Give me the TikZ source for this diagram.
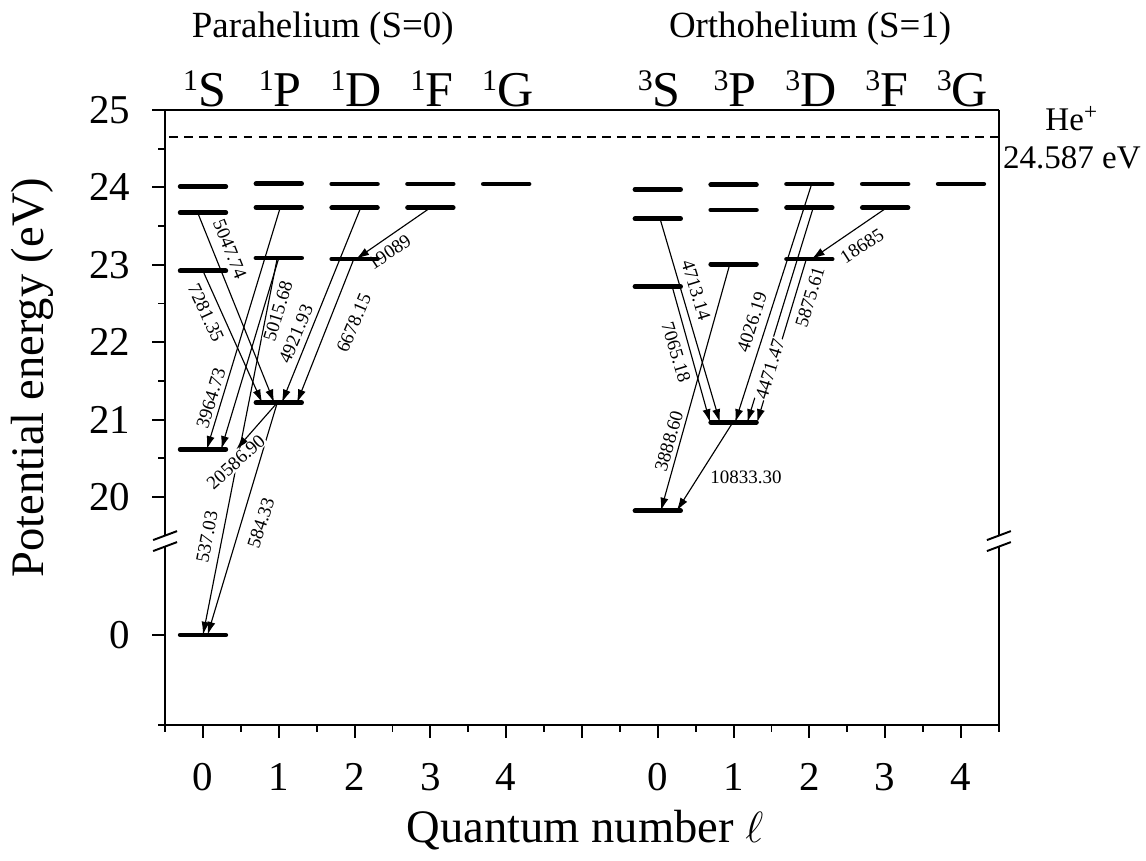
\documentclass[tikz,border=0pt]{standalone}
\usepackage{fontspec}
\setmainfont{Liberation Serif}
\usetikzlibrary{arrows.meta}
\newcommand{\fsz}[1]{\fontsize{#1}{#1}\selectfont}
\begin{document}
\begin{tikzpicture}[x=1.516cm,y=1.548cm,
    axis/.style={line width=1.1pt},
    level/.style={line width=2.8pt,line cap=round},
    trans/.style={line width=0.65pt,-{Latex[length=7.5pt,width=4.6pt]}},
    wl/.style={fill=white,inner sep=0.6pt,font={\fsz{10.8}}}]
    \useasboundingbox (-2.678,15.297) rectangle (12.441,26.421);
    % frame with broken energy axis
    \draw[axis] (-0.5,25)--(10.5,25) (-0.5,17.054)--(10.5,17.054);
    \foreach \bx in {-0.5,10.5}{
      \draw[axis] (\bx,17.054)--(\bx,19.359) (\bx,19.501)--(\bx,25);
      \foreach \d in {-0.071,0.071}
        \draw[axis] (\bx-0.158,19.43+\d-0.058)--(\bx+0.158,19.43+\d+0.058);
    }
    \foreach \e in {20,...,25}{\draw[axis] (-0.5,\e)--(-0.67,\e);
      \node[anchor=east,font={\fsz{23.3}}] (y\e) at (-0.88,\e) {\e};}
    \foreach \e in {20.5,21.5,...,24.5}{\draw[axis] (-0.5,\e)--(-0.6,\e);}
    \draw[axis] (-0.5,18.217)--(-0.67,18.217) (-0.5,17.054)--(-0.6,17.054);
    \node[anchor=east,font={\fsz{23.3}}] (y0) at (-0.88,18.217) {0};
    \foreach \i in {0,...,10}{\draw[axis] (\i,17.054)--(\i,16.89);}
    \foreach \i in {-0.5,0.5,...,10.5}{\draw[axis] (\i,17.054)--(\i,16.96);}
    \foreach \i/\l in {0/0,1/1,2/2,3/3,4/4,6/0,7/1,8/2,9/3,10/4}
      {\node[font={\fsz{23.3}}] (q\i) at (\i,16.38) {\l};}
    \node[anchor=base,font={\fsz{26.5}}] (xlab) at (5.04,15.53) {Quantum number $\ell$};
    \node[anchor=base,rotate=90,font={\fsz{26.5}}] (ylab) at (-2.11,21.54) {Potential energy (eV)};
    % headings
    \node[anchor=base,font={\fsz{21}}] (para) at (1.58,25.94) {Parahelium (S=0)};
    \node[anchor=base,font={\fsz{21}}] (ortho) at (8.01,25.94) {Orthohelium (S=1)};
    \foreach \i/\s/\t in {0/1/S,1/1/P,2/1/D,3/1/F,4/1/G,6/3/S,7/3/P,8/3/D,9/3/F,10/3/G}
      {\node[anchor=base,font={\fsz{28.5}}] (t\i) at (\i+0.02,25.05) {\raisebox{9pt}{\fsz{17}\s}\t};}
    % ionisation limit
    \draw[line width=1.1pt,dash pattern=on 5pt off 3.5pt] (-0.45,24.651)--(10.5,24.651);
    \node[anchor=base west,inner sep=0,font={\fsz{18.8}}] (ion) at (11.11,24.74) {He\textsuperscript{+}};
    \node[anchor=base west,inner sep=0,font={\fsz{18.8}}] (ionE) at (10.55,24.25) {24.587 eV};
    % transitions
    \foreach \xa/\ya/\xb/\yb in {-0.07/23.673/0.94/21.218, 0.0/22.920/0.78/21.218,
        2.08/23.736/1.04/21.218, 1.99/23.074/1.24/21.218, 3.0/23.737/2.02/23.074,
        1.02/23.742/0.05/20.616, 1.0/23.087/0.24/20.616, 0.98/23.087/0.0/18.217,
        0.98/21.218/0.06/18.217, 0.98/21.218/0.44/20.616,
        6.03/23.594/6.82/20.964, 6.19/22.718/6.69/20.964, 6.95/23.007/6.04/19.82,
        6.99/20.964/6.25/19.82, 8.03/24.043/7.02/20.964, 8.05/23.736/7.18/20.964,
        7.96/23.074/7.31/20.964, 9.02/23.737/8.03/23.074}
      {\draw[trans] (\xa,\ya)--(\xb,\yb);}
    \foreach \x/\y/\r/\t [count=\n] in {0.356/23.204/-68/5047.74, 0.04/22.377/-65/7281.35,
        0.99/22.403/73/5015.68, 1.227/22.106/67/4921.93, 1.99/22.248/67/6678.15,
        0.106/21.279/73/3964.73, 0.435/20.452/42/20586.90, 0.053/19.483/79/537.03,
        0.765/19.664/72/584.33, 2.46/23.166/34/19089,
        6.504/22.674/-73/4713.14, 6.24/21.873/-73/7065.18, 6.148/20.724/74/3888.60,
        7.243/22.261/72/4026.19, 7.48/21.654/73/4471.47, 8.008/22.584/73/5875.61,
        7.164/20.258/0/10833.30, 8.694/23.243/33/18685}
      {\node[wl,rotate=\r] (w\n) at (\x,\y) {\t};}
    % energy levels
    \foreach \c/\el in {0/{24.011,23.673,22.920,20.616,18.217}, 1/{24.046,23.742,23.087,21.218},
        2/{24.043,23.736,23.074}, 3/{24.044,23.737}, 4/{24.044},
        6/{23.972,23.594,22.718,19.820}, 7/{24.033,23.708,23.007,20.964},
        8/{24.043,23.736,23.074}, 9/{24.044,23.737}, 10/{24.044}}
      {\foreach \e in \el {\draw[level] (\c-0.3,\e)--(\c+0.3,\e);}}
\end{tikzpicture}
\end{document}
